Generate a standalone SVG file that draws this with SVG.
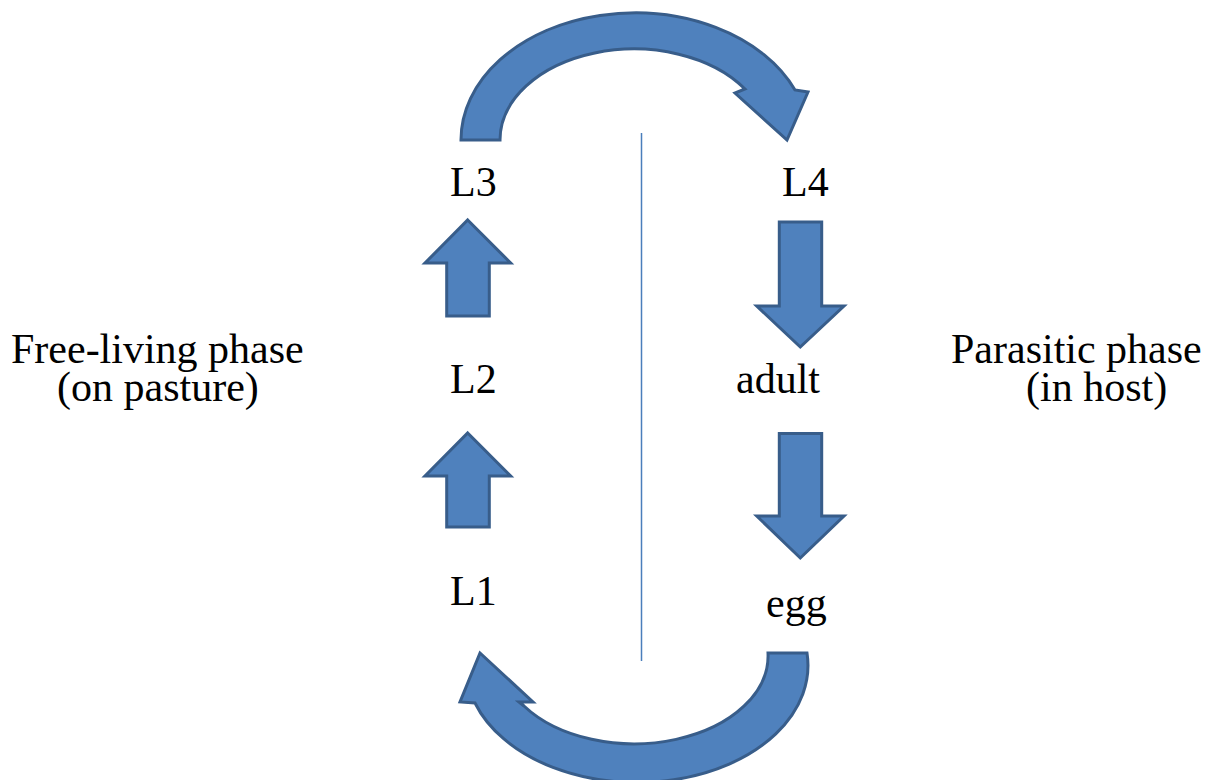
<svg xmlns="http://www.w3.org/2000/svg" width="1224" height="780" viewBox="0 0 1224 780">
<style>
.arrow{fill:#4f81bd;stroke:#385d8a;stroke-width:3;stroke-linejoin:miter}
text{font-family:'Liberation Serif','Times New Roman','DejaVu Serif',serif;font-size:42px;fill:#000}
</style>
<rect width="1224" height="780" fill="#fff"/>
<g id="connectors">
<line id="divider" x1="641.5" y1="133" x2="641.5" y2="661" stroke="#4a7ebb" stroke-width="1.5"/>
<path id="arc-top" class="arrow" d="M461,140 A174,127 0 0 1 795,90 L808,92 L787,140 L735,93 L745,89 A134,91 0 0 0 500,140 Z"/>
<path id="arc-bottom" class="arrow" d="M807,653 A171,117 0 0 1 475,703 L460,702 L480,653 L533,702 L519,702 L524,706 A134,88 0 0 0 768,653 Z"/>
<path id="up-1" class="arrow" d="M467.7,433 L510.7,476 L489.3,476 L489.3,527 L446.7,527 L446.7,476 L425,476 Z"/>
<path id="up-2" class="arrow" d="M467.7,220 L510.7,263 L489.3,263 L489.3,316 L446.7,316 L446.7,263 L425,263 Z"/>
<path id="down-1" class="arrow" d="M779.3,222 L821.7,222 L821.7,306 L844,306 L800.3,347 L756.7,306 L779.3,306 Z"/>
<path id="down-2" class="arrow" d="M779.3,433.5 L821.7,433.5 L821.7,516 L844,516 L800.3,558 L756.7,516 L779.3,516 Z"/>
</g>
<g font-family="Liberation Serif, serif" font-size="42">
<g id="node-L3"><text x="450" y="196">L3</text></g>
<g id="node-L2"><text x="450" y="393">L2</text></g>
<g id="node-L1"><text x="450" y="605">L1</text></g>
<g id="node-L4"><text x="782" y="196">L4</text></g>
<g id="node-adult"><text x="736" y="393">adult</text></g>
<g id="node-egg"><text x="766" y="617">egg</text></g>
<g id="label-free"><text x="11" y="363">Free-living phase</text><text x="57" y="401">(on pasture)</text></g>
<g id="label-parasitic"><text x="951" y="363">Parasitic phase</text><text x="1026" y="401">(in host)</text></g>
</g>
</svg>
